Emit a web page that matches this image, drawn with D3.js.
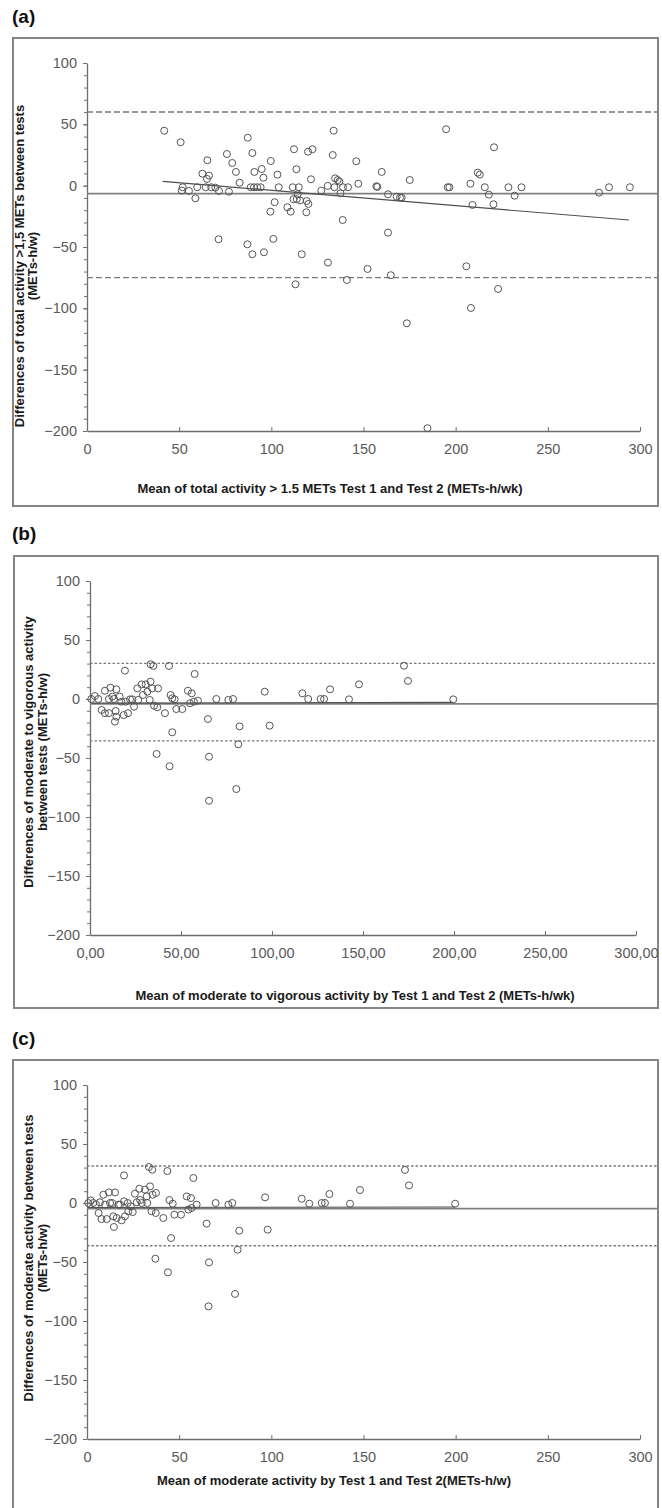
<!DOCTYPE html>
<html>
<head>
<meta charset="utf-8">
<script src="https://cdn.jsdelivr.net/npm/d3@7"></script>
<style>
  body { margin: 0; background: #fff; }
  svg { display: block; font-family: "Liberation Sans", Arial, sans-serif; }
</style>
</head>
<body>
<div class="chart"></div>
<script>
// ---- data ----
var yTicks = [100, 50, 0, -50, -100, -150, -200];
var xTicks = [0, 50, 100, 150, 200, 250, 300];
var xTickLabelsB = ["0,00", "50,00", "100,00", "150,00", "200,00", "250,00", "300,00"];

// (a) total activity > 1.5 METs : [mean, difference]
var pointsA = [
  [41.9, 44.8], [50.8, 35.4], [51.9, -1.3], [51.4, -4], [55.3, -4.3], [58.8, -10.3], [59.8, -1.3],
  [62.6, 9.8], [65.3, 20.7], [65.1, 5.5], [66.2, 8.2], [64.4, -1.3], [67.4, -1.3], [69.6, -1.6],
  [71.6, -4.3], [71.4, -43.7], [75.9, 25.8], [77, -4.9], [78.8, 18.5], [80.8, 11.2], [82.8, 2.4],
  [87.2, 39.1], [89.7, 26.6], [90.8, 11.2], [88.8, -1.3], [90.6, -1.3], [92.4, -1.3], [94.2, -1.3],
  [94.8, 13.6], [95.7, 6.5], [99.7, 20.1], [87, -47.8], [89.7, -55.9], [96, -54.3], [101.1, -43.4],
  [101.8, -13.5], [99.5, -21.2], [103.3, 9], [104, -1.3], [108.7, -17.6], [110.5, -21.2],
  [112.3, 29.7], [113.6, 13.4], [111.6, -1.3], [114.9, -1.3], [112, -11], [113.8, -11], [115.6, -12],
  [114.3, -7], [116.5, -55.9], [119.2, -12.5], [120.1, -14.9], [119, -21.7], [119.9, 27.7],
  [122.3, 29.7], [121.5, 5.2], [127.1, -4], [130.6, -0.2], [133.3, 25], [133.8, 44.8], [134.6, 6],
  [136, 4.6], [136.9, 3.3], [134.2, -1.3], [138.9, -1.3], [141.6, -1.3], [137.5, -6.2], [138.7, -28],
  [146.1, 19.9], [147.2, 1.6], [157, -0.5], [157.5, -1], [159.9, 11.2], [163.3, -7], [163.3, -38.3],
  [168, -9], [169.8, -9.8], [170.7, -9.8], [175.1, 4.6], [194.8, 46], [195.7, -1.3], [196.6, -1.3],
  [208, 1.6], [209.1, -15.7], [212, 10.6], [213.1, 9], [215.8, -1.3], [218, -7.3], [220.5, -15.2],
  [220.8, 31.3], [228.6, -1.3], [232, -8.2], [235.7, -1.3], [277.8, -5.7], [283.2, -1.3], [294.5, -1.3],
  [113.1, -80.4], [130.7, -62.7], [141, -76.9], [152.2, -67.9], [164.8, -73], [173.5, -112.2],
  [184.7, -197.7], [205.8, -65.7], [208.3, -99.7], [223, -84.2]
];
var limitsA = [60, -6.5, -75];          // upper, mean, lower
var regressionA = [[41, 3.5], [294, -28]];

// (b) moderate to vigorous activity
var pointsB = [
  [0.7, 0], [2.7, 2.5], [4.6, 0], [6.4, -9.3], [8.2, 7], [8.2, -12], [10.4, 0], [11.2, 9.6], [12.3, 2],
  [10.4, -12], [13.2, 0], [14.5, 8.2], [14.1, -10.2], [14.5, -15], [13.7, -19.2], [16.3, 2], [17.2, -2.3],
  [18.5, -13.6], [19.2, 24], [19.6, -2.3], [20.9, -12], [22, -0.3], [24.2, -6.5], [23.3, -0.3], [26, 9],
  [26.5, -0.8], [28.4, 12.4], [29.1, 3.4], [30.6, 12.4], [31.5, 6.2], [32.8, -0.8], [33.3, 14.7],
  [34.2, 9], [33.3, 29.4], [34.8, 28], [35.2, -5.7], [37, -7], [37.4, 9], [36.6, -46.6], [41.2, -12],
  [43.4, 28], [44.3, 3.4], [45.2, 0.6], [45.2, -28.2], [46.5, -0.3], [47.4, -8.5], [50.7, -8.5],
  [53.8, 7], [55.9, 4.8], [57.5, 21.2], [54.9, -3.6], [57.1, -2.3], [59.3, -1.4], [64.8, -17],
  [65.4, -48.9], [69.4, 0], [76, -0.8], [78.6, 0], [82.2, -23.2], [81.5, -38.4], [96, 6.2], [98.7, -22.6],
  [116.7, 4.8], [119.9, 0], [126.7, 0], [128.6, 0], [131.9, 8.2], [142.3, -0.3], [147.8, 12.4],
  [172.5, 28.2], [174.7, 15.3], [199.6, -0.3], [43.7, -57], [65.4, -86.2], [80.4, -76.3]
];
var limitsB = [30.2, -4.2, -35.5];
var regressionB = [[1, -3.5], [199.6, -2.8]];

// (c) moderate activity
var pointsC = [
  [0.7, 0], [2, 2.2], [3.4, 0], [4.9, -1.4], [6.3, -8.5], [7, 0.6], [7.9, -13.6], [8.9, 7], [9.8, -1.4],
  [10.7, -13.6], [11.9, 9], [12.5, 0], [13.7, 0], [14.3, -11.3], [14.6, -20.3], [15.2, 9], [16.1, -12.7],
  [17, -1.4], [17.9, -1.4], [18.8, -14.7], [20.1, 23.4], [20.1, 1.4], [20.6, -11.3], [22.1, 0],
  [22.4, -7], [23.7, -2.8], [24.8, -7.7], [26, 7.9], [27, 0.6], [28.4, 12.1], [28.8, 2.5], [29.7, 0],
  [31.5, 11.3], [32.4, 5.6], [32.7, 0], [34.2, 14.1], [33.6, 30.5], [35.4, 28.2], [35.6, 7], [37.4, 8.5],
  [35, -7], [37.3, -8.5], [37.1, -47.2], [41.4, -12.7], [43.6, 27.1], [44.7, 2.5], [45.6, -29.7],
  [46.5, -0.6], [47.4, -9.9], [51, -9.9], [54.1, 5.6], [56.4, 4.2], [57.7, 21.2], [55, -5.6],
  [56.8, -4.2], [59.5, -1.4], [64.9, -17.5], [66.2, -50.3], [69.8, 0], [76.7, -1.4], [78.8, 0],
  [82.6, -23.5], [81.7, -39.6], [96.6, 4.8], [98, -22.6], [116.5, 3.6], [120.6, -0.6], [127.3, 0],
  [129.1, 0], [131.5, 7.6], [142.7, -0.6], [148.1, 11], [172.5, 28], [174.7, 14.9], [199.7, -0.6],
  [43.9, -58.8], [65.9, -87.6], [80.3, -77.1]
];
var limitsC = [31.3, -4.7, -36.2];
var regressionC = [[0.5, -3.8], [199.7, -3.4]];

// ---- layout ----
var svg = d3.select(".chart")
  .append("svg")
  .attr("width", 662)
  .attr("height", 1508);

var panels = [
  {
    label: "(a)", labelY: 23, frame: [13, 38, 658, 506],
    xr: [87, 640], yr: [63, 431], xLabels: null,
    points: pointsA, limits: limitsA, reg: regressionA, dash: "6,3",
    yTitle: ["Differences of total  activity >1,5 METs between tests", "(METs-h/w)"],
    yTitleX: [24, 37], yTitleY: 266,
    xTitle: "Mean of total activity > 1.5 METs Test 1 and Test 2 (METs-h/wk)", xTitleX: 330, xTitleY: 493
  },
  {
    label: "(b)", labelY: 540, frame: [14, 556, 658, 1008],
    xr: [90, 636], yr: [581, 935], xLabels: xTickLabelsB,
    points: pointsB, limits: limitsB, reg: regressionB, dash: "2.5,2",
    yTitle: ["Differences of moderate to vigorous activity", "between tests (METs-h/w)"],
    yTitleX: [33, 47], yTitleY: 752,
    xTitle: "Mean of moderate to vigorous activity by Test 1 and Test 2 (METs-h/wk)", xTitleX: 355, xTitleY: 1000
  },
  {
    label: "(c)", labelY: 1045, frame: [13, 1060, 658, 1530],
    xr: [87, 640], yr: [1085, 1439], xLabels: null,
    points: pointsC, limits: limitsC, reg: regressionC, dash: "2.5,2",
    yTitle: ["Differences of moderate activity between tests", "(METs-h/w)"],
    yTitleX: [33, 47], yTitleY: 1258,
    xTitle: "Mean of moderate activity by Test 1 and Test 2(METs-h/w)", xTitleX: 334, xTitleY: 1485
  }
];

panels.forEach(function (p) {
  var f = p.frame;

  svg.append("text")
    .attr("x", 12)
    .attr("y", p.labelY)
    .attr("font-size", "19px")
    .attr("font-weight", "bold")
    .attr("fill", "#111")
    .text(p.label);

  svg.append("rect")
    .attr("x", f[0]).attr("y", f[1])
    .attr("width", f[2] - f[0]).attr("height", f[3] - f[1])
    .attr("fill", "none")
    .attr("stroke", "#858585")
    .attr("stroke-width", 2);

  var x = d3.scaleLinear().domain([0, 300]).range(p.xr);
  var y = d3.scaleLinear().domain([100, -200]).range(p.yr);
  var xEnd = x.invert(f[2] - 1);

  var g = svg.append("g");

  // minor y ticks
  g.append("g")
    .attr("transform", "translate(" + p.xr[0] + ",0)")
    .call(d3.axisLeft(y).tickValues(d3.range(-200, 101, 10)).tickSize(3).tickFormat(""))
    .call(function (s) { s.select(".domain").remove(); });

  // major y axis
  g.append("g")
    .attr("transform", "translate(" + p.xr[0] + ",0)")
    .call(d3.axisLeft(y).tickValues(yTicks).tickSize(4).tickPadding(6).tickSizeOuter(0));

  g.append("g")
    .attr("transform", "translate(0," + p.yr[1] + ")")
    .call(d3.axisBottom(x).tickValues(xTicks).tickSize(-4).tickPadding(13).tickSizeOuter(0)
      .tickFormat(function (d, i) { return p.xLabels ? p.xLabels[i] : d; }));

  g.selectAll(".domain").attr("stroke", "#6e6e6e").attr("stroke-width", 1.3);
  g.selectAll(".tick line").attr("stroke", "#6e6e6e");
  g.selectAll(".tick text")
    .attr("fill", "#5a5a5a")
    .attr("font-size", "14.5px")
    .attr("font-family", "\"Liberation Sans\", Arial, sans-serif");

  // limits of agreement and mean difference
  g.selectAll(".limit")
    .data([p.limits[0], p.limits[2]])
    .enter()
    .append("line")
    .attr("x1", x(0)).attr("x2", x(xEnd))
    .attr("y1", function (d) { return y(d); })
    .attr("y2", function (d) { return y(d); })
    .attr("stroke", "#7a7a7a")
    .attr("stroke-width", 1.4)
    .attr("stroke-dasharray", p.dash);

  g.append("line")
    .attr("x1", x(0)).attr("x2", x(xEnd))
    .attr("y1", y(p.limits[1])).attr("y2", y(p.limits[1]))
    .attr("stroke", "#808080")
    .attr("stroke-width", 1.8);

  // regression line
  g.append("line")
    .attr("x1", x(p.reg[0][0])).attr("y1", y(p.reg[0][1]))
    .attr("x2", x(p.reg[1][0])).attr("y2", y(p.reg[1][1]))
    .attr("stroke", "#505050")
    .attr("stroke-width", 1.2);

  g.selectAll("circle")
    .data(p.points)
    .enter()
    .append("circle")
    .attr("cx", function (d) { return x(d[0]); })
    .attr("cy", function (d) { return y(d[1]); })
    .attr("r", 3.5)
    .attr("fill", "none")
    .attr("stroke", "#555")
    .attr("stroke-width", 1);

  // axis titles
  p.yTitle.forEach(function (t, i) {
    svg.append("text")
      .attr("transform", "translate(" + p.yTitleX[i] + "," + p.yTitleY + ") rotate(-90)")
      .attr("text-anchor", "middle")
      .attr("font-size", "13px")
      .attr("font-weight", "bold")
      .attr("fill", "#1a1a1a")
      .text(t);
  });

  svg.append("text")
    .attr("x", p.xTitleX)
    .attr("y", p.xTitleY)
    .attr("text-anchor", "middle")
    .attr("font-size", "13px")
    .attr("font-weight", "bold")
    .attr("fill", "#1a1a1a")
    .text(p.xTitle);
});
</script>
</body>
</html>
